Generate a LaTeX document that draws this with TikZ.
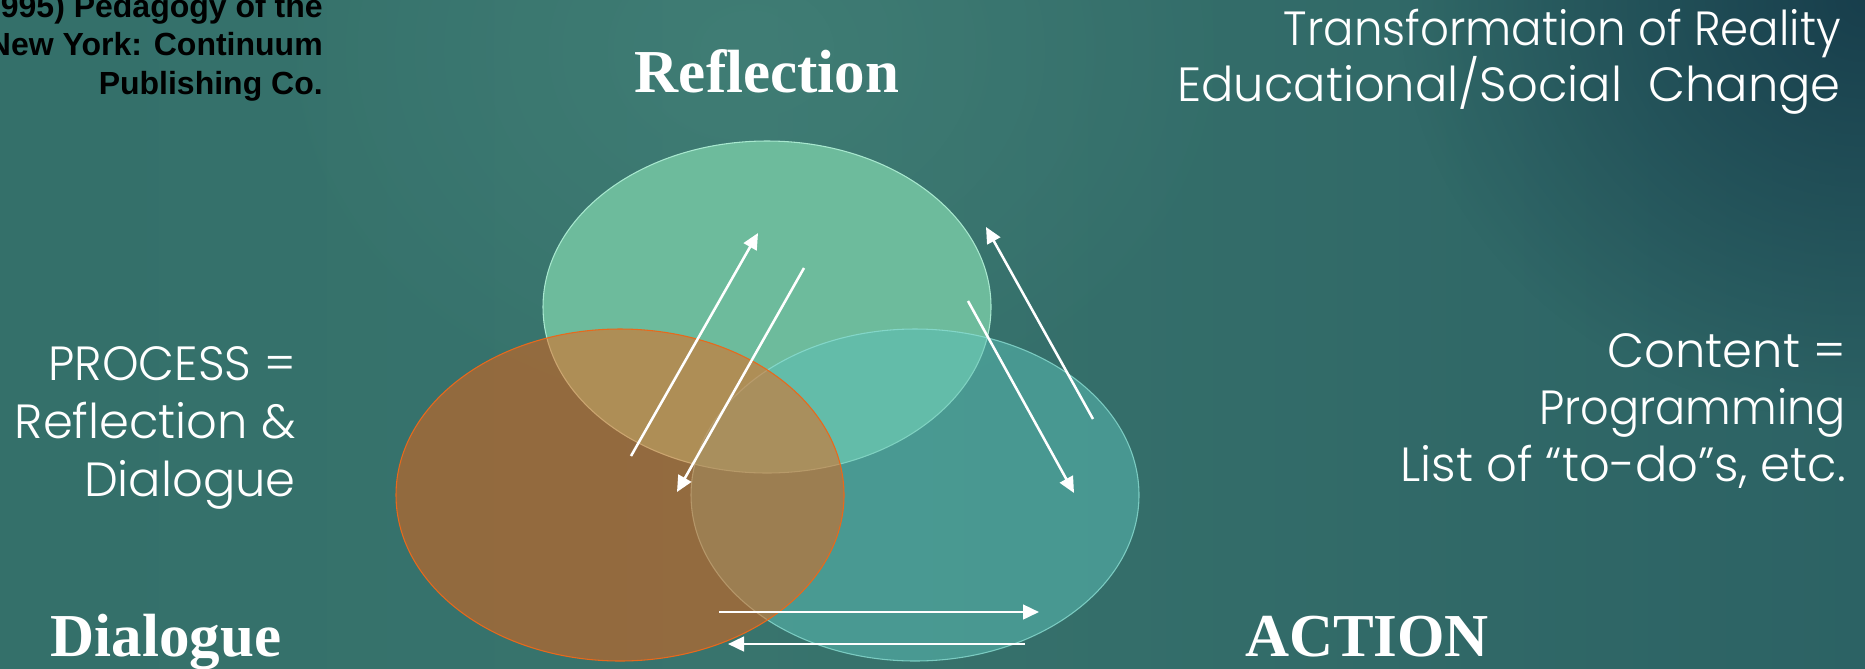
\documentclass[tikz,border=0pt]{standalone}
\usepackage{fontspec}
\setmainfont{Liberation Serif}
\newfontfamily\gothic{Poppins}[UprightFont={* Light}]
\newfontfamily\citefont{Liberation Sans}
\usetikzlibrary{arrows.meta,shapes.geometric,fadings}

\definecolor{bgA}{HTML}{2E6A66}
\definecolor{bgB}{HTML}{38746D}
\definecolor{bgC}{HTML}{2C6264}
\definecolor{bgD}{HTML}{1F4E58}
\definecolor{bgDark}{HTML}{163B4A}
\definecolor{bgGlow}{HTML}{45837A}
\definecolor{topfill}{HTML}{6DBB9C}
\definecolor{topedge}{HTML}{A8E8CF}
\definecolor{actfill}{HTML}{5BBEB5}
\definecolor{actedge}{HTML}{8ADDD2}
\definecolor{dlgfill}{HTML}{EF6312}
\definecolor{dlgedge}{HTML}{E8691C}

\pgfdeclarehorizontalshading{slidebg}{100bp}{color(0bp)=(bgA); color(45bp)=(bgB); color(75bp)=(bgC); color(100bp)=(bgD)}
\tikzfading[name=softspot, inner color=transparent!0, outer color=transparent!100]

\tikzset{
  venn/.style={ellipse, minimum width=336pt, minimum height=249pt, inner sep=0pt},
  flow/.style={draw=white, line width=1.9pt, -{Triangle[length=12pt,width=11pt]}},
  heading/.style={text=white, font=\fontsize{45.75}{50}\selectfont\bfseries, anchor=base, inner sep=0pt},
  note/.style={text=white, font=\gothic\fontsize{36}{43}\selectfont, anchor=base east, inner sep=0pt},
  cite/.style={text=black, font=\citefont\bfseries\fontsize{24}{29}\selectfont, anchor=base east, inner sep=0pt},
}

\begin{document}
\begin{tikzpicture}[x=0.75pt, y=-0.75pt]
  % canvas
  \useasboundingbox (0,0) rectangle (1865,668);
  \clip (0,0) rectangle (1865,668);
  \shade[shading=slidebg] (0,0) rectangle (1865,668);
  \fill[bgGlow, fill opacity=0.6, path fading=softspot, fit fading=true] (250,-350) rectangle (1250,450);
  \fill[bgDark, fill opacity=0.9, path fading=softspot, fit fading=true] (1400,-420) rectangle (2330,420);

  % three overlapping circles
  \node[venn, fill=topfill, draw=topedge, line width=0.8pt] (reflect) at (767,307) {};
  \node[venn, fill=actfill, fill opacity=0.52, draw=actedge, draw opacity=0.8, line width=0.8pt] (action) at (915,495) {};
  \node[venn, fill=dlgfill, fill opacity=0.5, draw=dlgedge, line width=0.8pt] (dialog) at (620,495) {};

  % arrow end points
  \coordinate (dr0) at (631,456);  \coordinate (dr1) at (758,233);
  \coordinate (rd0) at (804,268);  \coordinate (rd1) at (677,492);
  \coordinate (ra0) at (968,301);  \coordinate (ra1) at (1074,493);
  \coordinate (ar0) at (1093,419); \coordinate (ar1) at (986,227);
  \coordinate (da0) at (719,612);  \coordinate (da1) at (1039,612);
  \coordinate (ad0) at (1025,644); \coordinate (ad1) at (728,644);

  \draw[flow] (dr0) -- (dr1);
  \draw[flow] (rd0) -- (rd1);
  \draw[flow] (ra0) -- (ra1);
  \draw[flow] (ar0) -- (ar1);
  \draw[flow] (da0) -- (da1);
  \draw[flow] (ad0) -- (ad1);

  % circle titles
  \node[heading] (tRefl) at (767,92) {Reflection};
  \node[heading] (tDial) at (166,656) {Dialogue};
  \node[heading] (tAct) at (1367,656) {ACTION};

  % reference
  \node[cite] (c1) at (323,17) {995) Pedagogy of the};
  \node[cite] (c2) at (323,55) {New York: Continuum};
  \node[cite] (c3) at (323,94) {Publishing Co.};

  % side notes
  \node[note] (g1) at (1841,45) {\scalebox{0.94}[1]{Transformation of Reality}};
  \node[note] (g2) at (1841,101) {Educational/Social~~Change};

  \node[note] (p1) at (296,380) {\scalebox{0.97}[1]{PROCESS =}};
  \node[note] (p2) at (296,438) {Reflection \&};
  \node[note] (p3) at (296,496) {Dialogue};

  \node[note] (k1) at (1846,367) {Content =};
  \node[note] (k2) at (1846,424) {\scalebox{0.93}[1]{Programming}};
  \node[note] (k3) at (1846,481) {List of “to-do”s, etc.};
\end{tikzpicture}
\end{document}
